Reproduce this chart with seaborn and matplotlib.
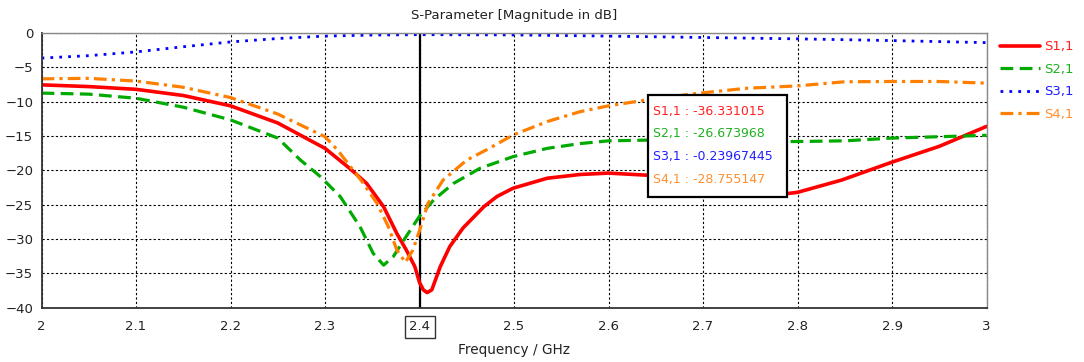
import pandas as pd
import matplotlib
matplotlib.use("Agg")
import matplotlib.pyplot as plt
import matplotlib.patches as patches
import seaborn as sns

# Values (frequency in GHz, magnitude in dB)
f_s11 = [2.0, 2.05, 2.1, 2.15, 2.2, 2.25, 2.3, 2.326, 2.344, 2.362, 2.376, 2.386,
         2.395, 2.4, 2.404, 2.408, 2.413, 2.422, 2.432, 2.446, 2.468, 2.482, 2.499,
         2.535, 2.57, 2.6, 2.64, 2.7, 2.74, 2.77, 2.8, 2.847, 2.9, 2.95, 3.0]
v_s11 = [-7.55, -7.8, -8.2, -9.1, -10.6, -13.1, -16.8, -19.7, -21.9, -25.3, -29.2, -31.6,
         -34.0, -36.33, -37.4, -37.8, -37.4, -34.0, -31.1, -28.4, -25.3, -23.8, -22.6,
         -21.15, -20.6, -20.4, -20.7, -21.8, -23.0, -23.7, -23.2, -21.4, -18.8, -16.5, -13.6]

f_s21 = [2.0, 2.05, 2.1, 2.15, 2.2, 2.25, 2.274, 2.295, 2.316, 2.337, 2.351, 2.362,
         2.372, 2.386, 2.4, 2.415, 2.436, 2.464, 2.499, 2.535, 2.57, 2.6, 2.64, 2.7,
         2.8, 2.85, 2.9, 2.95, 3.0]
v_s21 = [-8.75, -8.9, -9.5, -10.8, -12.65, -15.3, -18.5, -20.9, -23.8, -28.2, -32.1, -33.8,
         -32.6, -29.6, -26.67, -24.3, -21.9, -19.7, -18.0, -16.8, -16.1, -15.7, -15.6, -15.8,
         -15.8, -15.7, -15.3, -15.1, -14.9]

f_s31 = [2.0, 2.05, 2.1, 2.15, 2.2, 2.25, 2.3, 2.35, 2.4, 2.5, 2.6, 2.7, 2.8, 2.9, 3.0]
v_s31 = [-3.65, -3.3, -2.75, -2.0, -1.3, -0.8, -0.45, -0.3, -0.24, -0.28, -0.45, -0.65,
         -0.85, -1.1, -1.4]

f_s41 = [2.0, 2.05, 2.1, 2.15, 2.2, 2.25, 2.3, 2.313, 2.339, 2.355, 2.367, 2.376, 2.385,
         2.393, 2.4, 2.409, 2.425, 2.45, 2.471, 2.499, 2.535, 2.57, 2.6, 2.64, 2.693,
         2.746, 2.8, 2.85, 2.9, 2.95, 3.0]
v_s41 = [-6.67, -6.6, -7.0, -7.9, -9.4, -11.8, -15.1, -17.0, -21.6, -24.8, -28.2, -31.6, -33.4,
         -31.6, -28.76, -24.8, -21.4, -18.5, -17.0, -14.85, -12.9, -11.45, -10.6, -9.75, -8.8,
         -8.05, -7.7, -7.1, -7.06, -7.06, -7.3]

names = ["S1,1", "S2,1", "S3,1", "S4,1"]
marker_values = ["-36.331015", "-26.673968", "-0.23967445", "-28.755147"]
x_ticks = [2, 2.1, 2.2, 2.3, 2.4, 2.5, 2.6, 2.7, 2.8, 2.9, 3]
x_tick_labels = ["2", "2.1", "2.2", "2.3", "2.4", "2.5", "2.6", "2.7", "2.8", "2.9", "3"]
y_ticks = [0, -5, -10, -15, -20, -25, -30, -35, -40]

colors = ["#ff0000", "#00aa00", "#0000ff", "#ff8000"]
text_colors = ["#ff2020", "#20b020", "#2020ff", "#ff9030"]
styles = [
    dict(lw=2.6, ls="-"),
    dict(lw=2.3, ls=(0, (4, 2))),
    dict(lw=2.0, ls=(0, (1, 2.2))),
    dict(lw=2.3, ls=(0, (4, 1.6, 1, 1.6))),
]

series = [(f_s11, v_s11), (f_s21, v_s21), (f_s31, v_s31), (f_s41, v_s41)]
frames = []
for name, (f, v) in zip(names, series):
    frames.append(pd.DataFrame({"freq": f, "mag": v, "param": name}))
df = pd.concat(frames, ignore_index=True)

sns.set_style("white")
plt.rcParams["font.family"] = ["DejaVu Sans"]

fig = plt.figure(figsize=(10.84, 3.62), dpi=100)
ax = fig.add_axes([0.0383, 0.150, 0.8718, 0.7588])

for name, c, st in zip(names, colors, styles):
    sub = df[df["param"] == name]
    sns.lineplot(data=sub, x="freq", y="mag", color=c, label=name, ax=ax,
                 estimator=None, sort=False, **st)

ax.axvline(2.4, color="black", lw=1.6, zorder=1)

ax.set_xlim(2, 3)
ax.set_ylim(-40, 0)
ax.set_xticks(x_ticks)
ax.set_xticklabels(x_tick_labels)
ax.set_yticks(y_ticks)
ax.grid(True, color="black", ls=(0, (2, 2)), lw=0.8)
ax.tick_params(axis="both", labelsize=9.5, length=3, width=1, direction="out",
               colors="#222222", pad=3)
ax.tick_params(axis="x", pad=6)
for s in ["left", "bottom"]:
    ax.spines[s].set_color("#333333")
    ax.spines[s].set_linewidth(1.3)
for s in ["top", "right"]:
    ax.spines[s].set_color("#888888")
    ax.spines[s].set_linewidth(1.0)

# boxed marker label on the x axis
for lab in ax.get_xticklabels():
    if lab.get_text() == "2.4":
        lab.set_bbox(dict(facecolor="white", edgecolor="#333333", lw=1.0, pad=3.2))

ax.set_title("S-Parameter [Magnitude in dB]", fontsize=9.5, pad=10, color="#222222")
ax.set_xlabel("Frequency / GHz", fontsize=9.8, color="#222222", labelpad=7)
ax.set_ylabel("")

# marker read-out box
box = patches.Rectangle((0.6415, 0.402), 0.147, 0.373, transform=ax.transAxes,
                        facecolor="white", edgecolor="black", lw=1.6, zorder=5)
ax.add_patch(box)
for i, (name, val, tc) in enumerate(zip(names, marker_values, text_colors)):
    ax.text(0.647, 0.716 - i * 0.0825, f"{name} : {val}", transform=ax.transAxes,
            fontsize=9, color=tc, va="center", ha="left", zorder=6)

ax.get_legend().remove()
handles, labels = ax.get_legend_handles_labels()
leg = fig.legend(handles, labels, loc="upper left", bbox_to_anchor=(0.918, 0.903),
                 frameon=False, fontsize=9.5, handlelength=3.0, handletextpad=0.3,
                 labelspacing=0.72, labelcolor=text_colors, borderaxespad=0)

fig.savefig("out.png", dpi=100)
